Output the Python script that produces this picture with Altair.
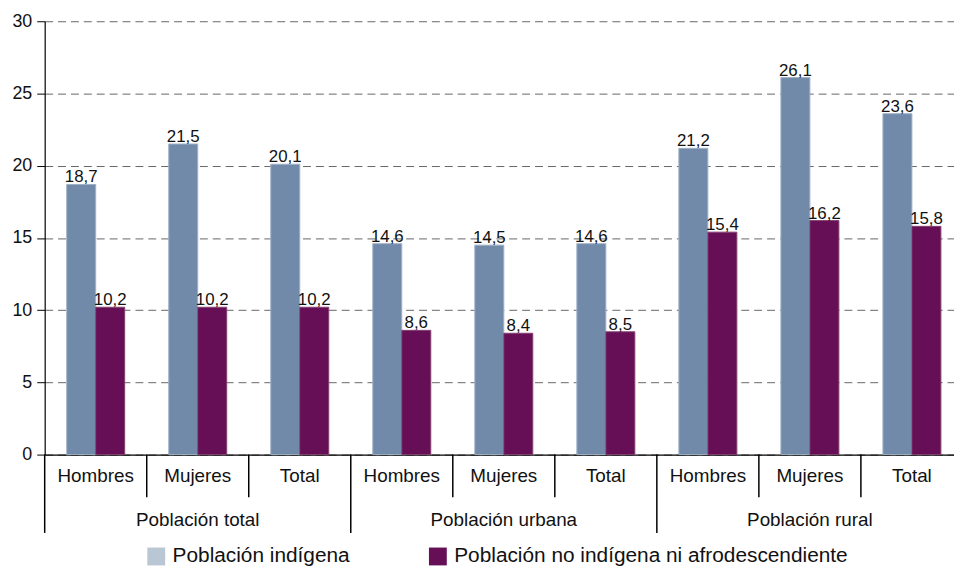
import altair as alt
import pandas as pd

grupos = ["Población total", "Población urbana", "Población rural"]
subgrupos = ["Hombres", "Mujeres", "Total"]
series = ["Población indígena", "Población no indígena ni afrodescendiente"]
indigena = [18.7, 21.5, 20.1, 14.6, 14.5, 14.6, 21.2, 26.1, 23.6]
no_indigena = [10.2, 10.2, 10.2, 8.6, 8.4, 8.5, 15.4, 16.2, 15.8]
y_ticks = [0, 5, 10, 15, 20, 25, 30]

bar_colors = ["#728aa9", "#660f57"]
bar_strokes = ["#9fb0c6", "#84406f"]
legend_colors = ["#b9c6d4", "#660f57"]
FONT = "Liberation Sans"

keys = [f"{g}|{s}" for g in grupos for s in subgrupos]

rows = []
for i, k in enumerate(keys):
    rows.append({"key": k, "serie": series[0], "valor": indigena[i]})
    rows.append({"key": k, "serie": series[1], "valor": no_indigena[i]})
bars_df = pd.DataFrame(rows)
bars_df["etiqueta"] = bars_df["valor"].map(lambda v: f"{v:.1f}".replace(".", ","))

sub_df = pd.DataFrame({"key": keys, "sub": [k.split("|")[1] for k in keys]})
grp_df = pd.DataFrame({"key": [f"{g}|{subgrupos[1]}" for g in grupos], "grupo": grupos})

x_axis = alt.Axis(labels=False, ticks=False, title=None, grid=False,
                  domain=True, domainColor="#000", domainWidth=1.2)
xscale = alt.Scale(domain=keys, paddingInner=0, paddingOuter=0)
X = alt.X("key:N", scale=xscale, axis=x_axis)
Xstart = alt.X("key:N", scale=xscale, axis=x_axis, bandPosition=0)

Y = alt.Y("valor:Q", scale=alt.Scale(domain=[0, 30], nice=False),
          axis=alt.Axis(values=y_ticks, title=None, grid=True, gridDash=[8, 5],
                        gridColor="#666", gridWidth=1, tickSize=8, tickColor="#000",
                        domainColor="#000", domainWidth=1.2, labelFontSize=18,
                        labelPadding=5, labelColor="#111"))

XO = alt.XOffset("serie:N", scale=alt.Scale(domain=series, paddingOuter=0.76, paddingInner=0))

base = alt.Chart(bars_df)

bars = base.mark_bar(strokeWidth=1).encode(
    x=X, xOffset=XO, y=Y,
    color=alt.Color("serie:N", scale=alt.Scale(domain=series, range=bar_colors), legend=None),
    stroke=alt.Stroke("serie:N", scale=alt.Scale(domain=series, range=bar_strokes), legend=None),
)

values = base.mark_text(fontSize=17, baseline="alphabetic", dy=-2, color="#111").encode(
    x=X, xOffset=XO, y=Y, text="etiqueta:N"
)

legend_layer = base.mark_square(opacity=0).encode(
    x=X, y=Y,
    color=alt.Color("serie:N", scale=alt.Scale(domain=series, range=legend_colors),
                    legend=alt.Legend(title=None, orient="none", direction="horizontal",
                                      legendX=102, legendY=529, symbolType="square",
                                      symbolSize=324, symbolOpacity=1, symbolStrokeWidth=0,
                                      labelFontSize=21, labelColor="#111", labelOffset=6,
                                      columnPadding=78, labelLimit=600)),
)

sub_labels = alt.Chart(sub_df).mark_text(fontSize=19, baseline="alphabetic", color="#111").encode(
    x=X, y=alt.value(465), text="sub:N"
)

grp_labels = alt.Chart(grp_df).mark_text(fontSize=19, baseline="alphabetic", color="#111").encode(
    x=X, y=alt.value(509), text="grupo:N"
)

small_sep = alt.Chart(sub_df).transform_filter(
    alt.datum.sub != subgrupos[0]
).mark_rule(color="#000", strokeWidth=1.5).encode(
    x=Xstart, y=alt.value(437), y2=alt.value(480)
)

big_sep = alt.Chart(sub_df).transform_filter(
    alt.datum.sub == subgrupos[0]
).mark_rule(color="#000", strokeWidth=1.5).encode(
    x=Xstart, y=alt.value(437), y2=alt.value(516)
)

chart = alt.layer(
    bars, values, legend_layer, sub_labels, grp_labels, small_sep, big_sep
).resolve_scale(color="independent", stroke="independent").properties(
    width=926, height=437,
    padding={"left": 37, "top": 11, "right": -9, "bottom": 111},
    autosize=alt.AutoSizeParams(type="none"),
).configure(font=FONT).configure_view(stroke=None)

chart.save("out.html", embed_options={"renderer": "svg", "actions": False})
